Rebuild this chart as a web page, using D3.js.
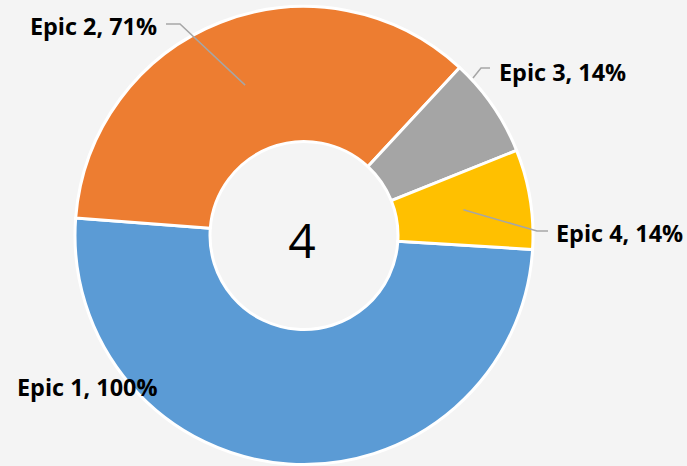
<!DOCTYPE html>
<html>
<head>
<meta charset="utf-8">
<script src="https://cdn.jsdelivr.net/npm/d3@7"></script>
<style>
  body { margin: 0; background: #f4f4f4; }
  svg { display: block; }
  .lbl { font-family: "Open Sans", "Noto Sans", sans-serif; font-weight: 700; font-size: 23.4px; fill: #000; }
</style>
</head>
<body>
<div id="chart"></div>
<script>
var width = 687, height = 466;
var categories = ['Epic 1', 'Epic 2', 'Epic 3', 'Epic 4'];
var values = [100, 71, 14, 14];
var labels = ['100%', '71%', '14%', '14%'];
var colors = ['#5b9bd5', '#ed7d31', '#a5a5a5', '#ffc000'];
var centerText = '4';

var cx = 304, cy = 235.5, outerR = 229, innerR = 94;
var startDeg = 93.5;

// label placement (layout only): x, y, anchor, elbow point, end of leader
var labelPos = [
  { x: 17, y: 387, anchor: 'start', leader: null },
  { x: 157, y: 26, anchor: 'end', elbow: [180, 24], end: [166, 24] },
  { x: 499, y: 72, anchor: 'start', from: [473, 78], elbow: [481, 68], end: [490, 68] },
  { x: 556, y: 233, anchor: 'start', elbow: [537, 231], end: [548, 231] }
];

var svg = d3.select('#chart').append('svg')
  .attr('width', width)
  .attr('height', height);

svg.append('rect').attr('width', width).attr('height', height).attr('fill', '#f4f4f4');

var pie = d3.pie()
  .sort(null)
  .value(function(d) { return d; })
  .startAngle(startDeg * Math.PI / 180)
  .endAngle(startDeg * Math.PI / 180 + 2 * Math.PI);

var arc = d3.arc().innerRadius(innerR).outerRadius(outerR);

var g = svg.append('g').attr('transform', 'translate(' + cx + ',' + cy + ')');
var arcs = pie(values);

g.selectAll('path.slice')
  .data(arcs)
  .enter()
  .append('path')
  .attr('class', 'slice')
  .attr('d', arc)
  .attr('fill', function(d, i) { return colors[i]; })
  .attr('stroke', '#fff')
  .attr('stroke-width', 3)
  .attr('stroke-linejoin', 'round');

g.append('text')
  .attr('x', -2)
  .attr('y', 4)
  .attr('text-anchor', 'middle')
  .attr('dominant-baseline', 'central')
  .style('font-family', '"Open Sans", "Noto Sans", sans-serif')
  .style('font-size', '48px')
  .text(centerText);

// leader lines
arcs.forEach(function(d, i) {
  var p = labelPos[i];
  if (!p.elbow) return;
  var start;
  if (p.from) {
    start = p.from;
  } else {
    var c = arc.centroid(d);
    start = [c[0] + cx, c[1] + cy];
  }
  svg.append('polyline')
    .attr('points', [start, p.elbow, p.end].map(function(q) { return q.join(','); }).join(' '))
    .attr('fill', 'none')
    .attr('stroke', '#a6a6a6')
    .attr('stroke-width', 1.5);
});

svg.selectAll('text.lbl')
  .data(arcs)
  .enter()
  .append('text')
  .attr('class', 'lbl')
  .attr('x', function(d, i) { return labelPos[i].x; })
  .attr('y', function(d, i) { return labelPos[i].y; })
  .attr('text-anchor', function(d, i) { return labelPos[i].anchor; })
  .attr('dominant-baseline', 'central')
  .text(function(d, i) { return categories[i] + ', ' + labels[i]; });
</script>
</body>
</html>
